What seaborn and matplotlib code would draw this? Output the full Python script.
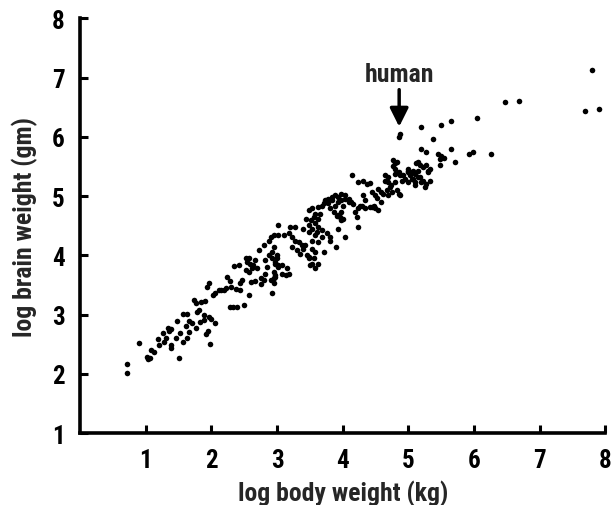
import matplotlib
matplotlib.use("Agg")
import matplotlib.pyplot as plt
from matplotlib import font_manager as fm
import seaborn as sns
import pandas as pd

body = [0.71,0.71,0.90,1.02,1.04,1.06,1.08,1.12,1.19,1.20,1.26,1.28,1.30,1.34,1.38,1.36,1.38,1.38,1.46,1.47,
        1.51,1.52,1.56,1.62,1.56,1.61,1.63,1.66,1.66,1.71,1.76,1.84,1.90,1.78,1.82,1.89,1.91,1.94,1.98,1.93,
        1.96,2.02,2.06,2.14,2.22,2.24,2.06,1.73,1.81,1.89,1.96,1.76,1.99,
        2.11,2.19,2.30,2.38,2.44,2.29,2.34,2.42,2.47,2.44,2.52,2.57,2.54,2.58,2.52,2.57,2.62,2.64,2.67,2.69,
        2.67,2.72,2.80,2.75,2.80,2.82,2.85,2.82,2.87,2.92,2.95,2.90,2.95,3.02,2.90,2.95,2.97,2.92,2.97,3.00,
        3.02,2.39,2.49,2.57,2.29,2.33,
        3.02,3.10,3.20,3.28,2.87,3.00,2.92,2.97,3.02,2.95,3.07,2.97,3.13,2.95,3.18,3.15,3.18,3.23,3.28,3.33,
        3.38,3.23,3.30,3.35,3.40,3.45,3.48,3.53,3.63,3.58,
        3.48,3.53,3.58,3.63,3.68,3.73,3.78,3.83,3.88,3.93,3.98,4.03,3.51,3.58,3.63,3.68,3.76,3.81,4.03,3.81,
        4.14,4.24,4.31,4.37,4.42,4.64,4.69,4.77,4.82,4.80,4.85,4.92,4.99,5.05,5.10,5.15,5.17,5.22,5.25,4.54,
        4.59,4.67,4.72,4.75,4.69,4.85,4.44,4.49,4.52,4.47,4.49,4.24,3.93,4.31,4.34,4.29,4.24,4.19,4.21,4.04,
        4.09,3.98,3.93,3.88,3.83,3.78,3.71,3.81,3.86,3.91,3.96,3.98,3.56,3.63,3.49,3.53,3.61,3.48,3.58,3.68,
        3.53,3.63,3.43,3.53,3.58,3.48,3.56,3.50,
        5.12,4.64,4.69,4.74,4.80,4.87,4.90,4.95,5.00,5.07,4.82,4.87,4.01,4.09,4.16,4.34,4.44,4.54,3.98,3.93,
        4.01,
        4.85,4.87,5.20,5.50,5.65,6.05,5.38,5.20,5.27,5.65,5.45,5.50,5.55,5.48,5.71,5.48,4.77,4.80,4.80,5.17,
        5.22,5.27,5.33,5.30,5.15,5.00,5.02,5.05,5.10,5.20,5.27,5.93,5.98,6.26,6.47,6.68,7.80,7.69,7.90,
        5.00,5.07,5.15,5.30,5.33,5.10,4.26,4.42,3.44,3.66,3.71,3.40,3.90,4.12,4.58,4.62,2.60,2.76,3.08]

brain = [2.16,2.01,2.52,2.29,2.25,2.27,2.41,2.37,2.59,2.49,2.69,2.54,2.60,2.78,2.76,2.72,2.49,2.44,2.60,2.90,
         2.26,2.69,3.01,3.01,2.54,2.80,2.61,2.89,2.71,2.85,3.19,3.22,3.23,3.04,2.88,2.91,2.68,2.72,2.50,3.47,
         3.54,3.33,3.36,3.41,3.45,3.64,2.85,3.25,3.08,2.99,2.96,2.77,2.93,
         3.41,3.42,3.46,3.44,3.41,3.57,3.82,3.84,3.58,3.54,3.95,3.95,3.89,3.85,3.75,3.72,3.78,3.83,3.92,3.78,
         3.56,4.09,4.17,3.61,3.58,3.69,3.81,3.92,4.00,4.06,4.14,4.31,4.34,4.35,3.58,3.61,3.67,3.36,3.89,3.95,
         3.84,3.13,3.16,3.33,3.13,3.12,
         4.51,4.34,4.48,4.48,4.25,4.00,3.95,3.86,3.81,3.72,3.69,3.64,3.67,3.53,3.69,3.78,4.37,4.31,4.25,4.23,
         4.17,4.14,4.09,4.03,4.11,4.00,3.95,3.86,3.86,3.78,
         4.76,4.79,4.70,4.81,4.84,4.93,4.95,4.98,5.01,4.98,5.04,4.95,4.59,4.54,4.48,4.42,4.37,4.31,4.31,4.25,
         5.36,5.24,5.26,5.21,5.22,5.35,5.32,5.51,5.57,5.38,5.41,5.35,5.43,5.41,5.38,5.57,5.32,5.26,5.15,5.12,
         5.07,5.10,5.15,5.07,5.01,5.04,5.07,5.01,4.96,4.84,4.79,4.48,4.45,5.01,4.93,4.84,4.79,4.73,4.65,5.01,
         4.95,4.93,4.90,4.84,4.93,4.88,4.88,4.79,4.73,4.67,4.65,4.59,4.65,4.62,4.52,4.45,4.40,4.39,4.34,4.31,
         4.25,4.23,4.17,4.11,4.06,3.97,3.95,3.83,
         5.55,5.26,5.24,5.18,5.24,5.35,5.26,5.29,5.24,5.43,5.10,5.01,4.84,4.90,4.87,4.79,4.81,4.76,4.73,4.68,
         4.62,
         5.99,6.05,6.16,6.20,6.27,6.31,5.97,5.80,5.74,5.80,5.71,5.68,5.64,5.63,5.57,5.52,5.60,5.55,5.46,5.52,
         5.49,5.52,5.46,5.40,5.43,5.46,5.35,5.29,5.24,5.24,5.21,5.71,5.74,5.71,6.59,6.61,7.12,6.44,6.47,
         5.41,5.29,5.32,5.43,5.25,5.18,4.84,4.81,4.62,4.70,4.06,4.44,4.14,4.90,4.90,5.04,3.55,3.52,3.83]

x_ticks = [1, 2, 3, 4, 5, 6, 7, 8]
y_ticks = [1, 2, 3, 4, 5, 6, 7, 8]

df = pd.DataFrame({"body": body, "brain": brain})

sns.set_style("ticks")
plt.rcParams['font.family'] = ['DejaVu Sans']

# pick an installed condensed bold face
wanted = ["robotocondensed-bold.ttf", "pt_sans-narrow-web-bold.ttf", "firasanscondensed-bold.ttf",
          "dejavusanscondensed-bold.ttf"]
files = fm.findSystemFonts() + [f.fname for f in fm.fontManager.ttflist]
fp = None
for w in wanted:
    for f in files:
        if f.replace("\\", "/").split("/")[-1].lower() == w:
            fp = fm.FontProperties(fname=f)
            break
    if fp is not None:
        break
if fp is None:
    fp = fm.FontProperties(family="DejaVu Sans", weight="bold", stretch="condensed")

fig = plt.figure(figsize=(6.12, 5.06), dpi=100)
ax = fig.add_axes([0.131, 0.142, 0.858, 0.820])
sns.scatterplot(data=df, x="body", y="brain", ax=ax, color="black", s=16, linewidth=0, legend=False)

ax.set_xlim(0, 8)
ax.set_ylim(1, 8)
ax.set_xticks(x_ticks)
ax.set_yticks(y_ticks)
tick_fp = fp.copy(); tick_fp.set_size(18)
lab_fp = fp.copy(); lab_fp.set_size(18.5)
ax.set_xticklabels([str(t) for t in x_ticks], fontproperties=tick_fp)
ax.set_yticklabels([str(t) for t in y_ticks], fontproperties=tick_fp)
ax.tick_params(direction='in', length=6, width=2.2, pad=11, colors='black')
for side in ['top', 'right']:
    ax.spines[side].set_visible(False)
for side in ['left', 'bottom']:
    ax.spines[side].set_linewidth(2.6)
    ax.spines[side].set_color('black')

ax.set_xlabel("log body weight (kg)", fontproperties=lab_fp, labelpad=5)
ax.set_ylabel("log brain weight (gm)", fontproperties=lab_fp, labelpad=10)

ax.annotate("human", xy=(4.86, 6.17), xytext=(4.86, 6.85),
            ha='center', va='bottom', fontproperties=lab_fp,
            arrowprops=dict(arrowstyle='-|>,head_width=0.3,head_length=0.6', color='black', lw=2.5,
                            shrinkA=0, shrinkB=0))

fig.savefig("out.png", dpi=100)
